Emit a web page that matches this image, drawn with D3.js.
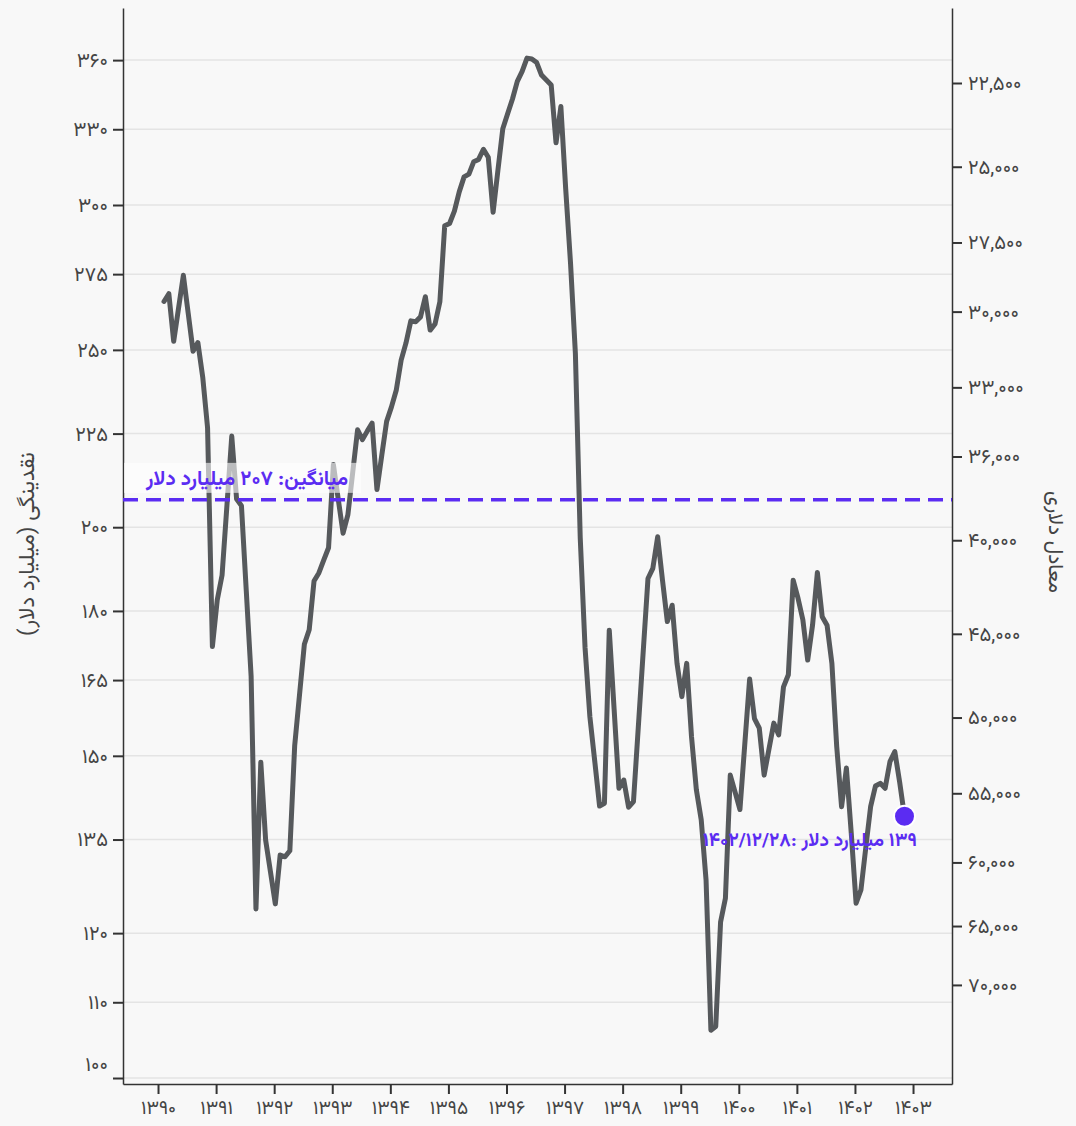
<!DOCTYPE html>
<html>
<head>
<meta charset="utf-8">
<script src="https://cdn.jsdelivr.net/npm/d3@7"></script>
<style>
  body { margin: 0; background: #f8f8f8; }
  svg { display: block; font-family: Vazirmatn, "DejaVu Sans", sans-serif; }
</style>
</head>
<body>
<script>
let width = 1076;
let height = 1126;

// chart data
const years = [1390, 1391, 1392, 1393, 1394, 1395, 1396, 1397, 1398, 1399, 1400, 1401, 1402, 1403];
const leftTicks = [100, 110, 120, 135, 150, 165, 180, 200, 225, 250, 275, 300, 330, 360];
const rightTicks = [22500, 25000, 27500, 30000, 33000, 36000, 40000, 45000, 50000, 55000, 60000, 65000, 70000];
const firstMonth = 1390.103; // position of first monthly value (in years)
const liquidity = [
  265.7, 268.3, 252.7, 263.4, 274.6, 261.8, 249.6, 252.3, 241.6, 226.7,
  172.1, 182.5, 188.3, 205.5, 224.3, 207.2, 205.5, 184.6, 165.8, 123.7,
  148.8, 134.9, 129.6, 124.5, 132.4, 132.1, 133.1, 151.9, 162.0, 172.6,
  175.8, 186.9, 188.8, 191.9, 194.9, 216.4, 207.2, 198.5, 203.2, 214.4,
  226.1, 223.3, 225.7, 228.0, 209.7, 219.0, 228.5, 232.7, 237.7, 246.8,
  252.2, 259.3, 259.0, 260.6, 267.3, 256.3, 258.3, 265.6, 292.3, 293.1,
  297.7, 305.0, 310.8, 311.9, 316.8, 317.7, 321.8, 318.6, 297.3, 313.5,
  330.2, 336.5, 342.8, 350.5, 354.9, 360.9, 360.5, 358.9, 353.3, 351.1,
  348.9, 324.4, 339.6, 306.1, 278.7, 248.9, 197.4, 171.8, 157.5, 149.0,
  140.8, 141.3, 175.7, 159.1, 144.0, 145.5, 140.6, 141.6, 155.5, 170.8,
  187.5, 189.9, 197.6, 187.1, 177.6, 181.3, 168.5, 161.6, 168.5, 153.6,
  143.7, 138.4, 128.3, 106.2, 106.7, 121.7, 125.4, 146.4, 143.3, 140.2,
  152.2, 165.2, 157.2, 155.3, 146.4, 151.3, 156.3, 154.0, 163.6, 166.1,
  187.1, 182.9, 178.0, 169.2, 176.8, 188.9, 178.7, 176.8, 168.5, 151.7,
  140.7, 147.7, 136.1, 124.6, 126.7, 133.6, 140.7, 144.4, 144.9, 144.0,
  148.9, 150.8, 145.1, 139.0
];
const meanValue = 207;
const dollarConst = 7.87e6; // liquidity * dollar rate = constant
const meanLabel = "میانگین: ۲۰۷ میلیارد دلار";
const lastLabel = "۱۳۹ میلیارد دلار :۱۴۰۲/۱۲/۲۸";
const leftTitle = "نقدینگی (میلیارد دلار)";
const rightTitle = "معادل دلاری";

const purple = "#5b2cf2";
const fa = (s) => String(s).replace(/\d/g, d => "۰۱۲۳۴۵۶۷۸۹"[d]);

let plotLeft = 123, plotRight = 952, plotTop = 8, plotBottom = 1084;
let yMin = 99.25, yMax = 384.4;

let svg = d3.select("body").append("svg")
  .attr("width", width)
  .attr("height", height);

let x = d3.scaleLinear().domain([1389.397, 1403.671]).range([plotLeft, plotRight]);
let y = d3.scaleLog().domain([yMin, yMax]).range([plotBottom, plotTop]);
let y2 = d3.scaleLog().domain([dollarConst / yMax, dollarConst / yMin]).range([plotTop, plotBottom]);

// gridlines
svg.append("g")
  .selectAll("line")
  .data(leftTicks)
  .join("line")
  .attr("x1", plotLeft).attr("x2", plotRight)
  .attr("y1", d => y(d)).attr("y2", d => y(d))
  .attr("stroke", "#e4e4e4")
  .attr("stroke-width", 1.5);

function styleAxis(g) {
  g.selectAll(".domain").attr("stroke", "#333").attr("stroke-width", 1.5);
  g.selectAll(".tick line").attr("stroke", "#333").attr("stroke-width", 2);
  g.selectAll(".tick text").attr("fill", "#444").style("font-size", "20px")
    .style("font-family", 'Vazirmatn, "DejaVu Sans", sans-serif');
}

let gLeft = svg.append("g")
  .attr("transform", `translate(${plotLeft},0)`)
  .call(d3.axisLeft(y).tickValues(leftTicks).tickFormat(d => fa(d)).tickSize(10).tickPadding(5).tickSizeOuter(0))
  .call(styleAxis);
// lowest label sits a little above its tick, as in the original
gLeft.selectAll(".tick text").filter(d => d === 100).attr("dy", "-0.38em");

svg.append("g")
  .attr("transform", `translate(${plotRight},0)`)
  .call(d3.axisRight(y2).tickValues(rightTicks).tickFormat(d => fa(d3.format(",")(d))).tickSize(10).tickPadding(6).tickSizeOuter(0))
  .call(styleAxis);

let gBottom = svg.append("g")
  .attr("transform", `translate(0,${plotBottom})`)
  .call(d3.axisBottom(x).tickValues(years).tickFormat(d => fa(d)).tickSize(10).tickPadding(7).tickSizeOuter(0))
  .call(styleAxis);
gBottom.selectAll(".tick text").style("font-size", "19px");

// liquidity line
let line = d3.line()
  .x((d, i) => x(firstMonth + i / 12))
  .y(d => y(d));

svg.append("path")
  .datum(liquidity)
  .attr("d", line)
  .attr("fill", "none")
  .attr("stroke", "#56595c")
  .attr("stroke-width", 5)
  .attr("stroke-linejoin", "round")
  .attr("stroke-linecap", "round");

// mean line and label
svg.append("line")
  .attr("x1", plotLeft).attr("x2", plotRight)
  .attr("y1", y(meanValue)).attr("y2", y(meanValue))
  .attr("stroke", purple)
  .attr("stroke-width", 3.5)
  .attr("stroke-dasharray", "15,8");

svg.append("rect")
  .attr("x", plotLeft + 1).attr("y", y(meanValue) - 37)
  .attr("width", 237).attr("height", 30)
  .attr("fill", "#fff").attr("opacity", 0.6);

svg.append("text")
  .attr("x", 247).attr("y", y(meanValue) - 15)
  .attr("text-anchor", "middle")
  .attr("direction", "rtl")
  .attr("fill", purple)
  .style("font-size", "20.5px")
  .style("font-weight", "bold")
  .text(meanLabel);

// last point
let lastI = liquidity.length - 1;
svg.append("circle")
  .attr("cx", x(firstMonth + lastI / 12))
  .attr("cy", y(liquidity[lastI]))
  .attr("r", 10.5)
  .attr("fill", purple)
  .attr("stroke", "#fff")
  .attr("stroke-width", 2);

svg.append("text")
  .attr("x", 810).attr("y", y(liquidity[lastI]) + 30)
  .attr("text-anchor", "middle")
  .attr("direction", "rtl")
  .attr("fill", purple)
  .style("font-size", "19px")
  .style("font-weight", "bold")
  .text(lastLabel);

// axis titles
svg.append("text")
  .attr("transform", "translate(34,544) rotate(-90)")
  .attr("text-anchor", "middle")
  .attr("direction", "rtl")
  .attr("fill", "#444")
  .style("font-size", "22px")
  .text(leftTitle);

svg.append("text")
  .attr("transform", "translate(1049,542) rotate(90)")
  .attr("text-anchor", "middle")
  .attr("direction", "rtl")
  .attr("fill", "#444")
  .style("font-size", "21px")
  .text(rightTitle);
</script>
</body>
</html>
